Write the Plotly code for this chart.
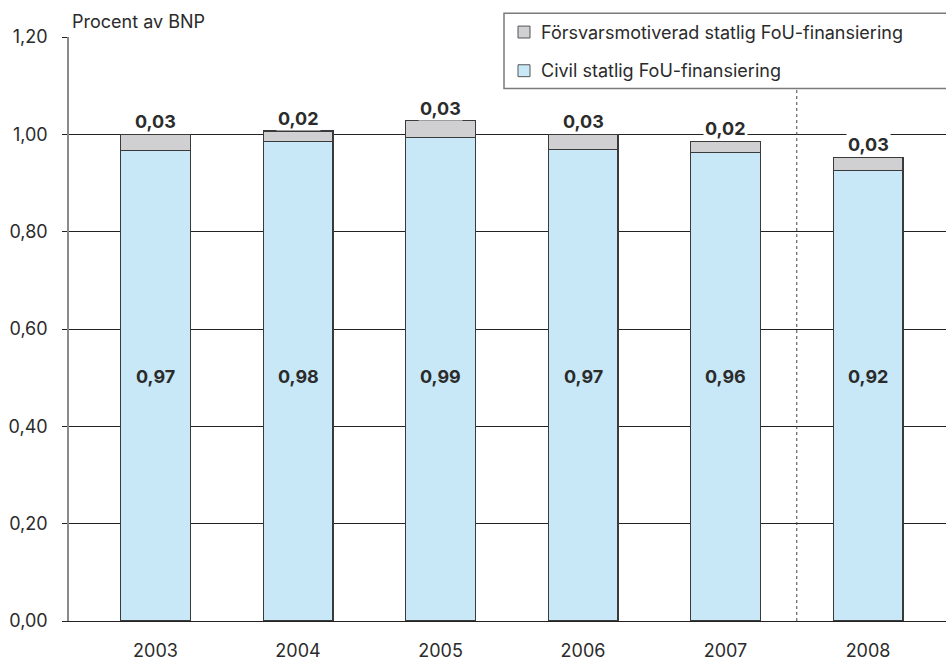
import plotly.graph_objects as go

# ---- data ----
years = ["2003", "2004", "2005", "2006", "2007", "2008"]
civil = [0.967, 0.985, 0.993, 0.969, 0.962, 0.925]
defense = [0.033, 0.022, 0.035, 0.031, 0.024, 0.028]
civil_labels = ["0,97", "0,98", "0,99", "0,97", "0,96", "0,92"]
defense_labels = ["0,03", "0,02", "0,03", "0,03", "0,02", "0,03"]
series_names = ["Civil statlig FoU-finansiering", "Försvarsmotiverad statlig FoU-finansiering"]
y_title = "Procent av BNP"

# ---- layout constants ----
W, H = 946, 661
L, R, T, B = 69, 0, 37, 35
PW, PH = W - L - R, H - T - B
FONT = "Inter, Liberation Sans, Arial, sans-serif"
TXT = "#2b2b2b"
C_CIVIL = "#c8e8f8"
C_DEF = "#d0d0d2"
EDGE = "#3a3a3a"


def px(xp):
    return (xp - L) / PW


def py(yp):
    return (H - B - yp) / PH


xs = list(range(len(years)))
totals = [c + d for c, d in zip(civil, defense)]

fig = go.Figure()
fig.add_trace(go.Bar(x=xs, y=civil, name=series_names[0], width=0.49,
                     marker=dict(color=C_CIVIL, line=dict(color=EDGE, width=1.2)),
                     showlegend=False, hoverinfo="skip"))
fig.add_trace(go.Bar(x=xs, y=defense, name=series_names[1], width=0.49,
                     marker=dict(color=C_DEF, line=dict(color=EDGE, width=1.2)),
                     showlegend=False, hoverinfo="skip"))

annotations = []
for i in xs:
    annotations.append(dict(x=i, y=0.503, xref="x", yref="y", text="<b>%s</b>" % civil_labels[i],
                            showarrow=False, font=dict(family=FONT, size=18, color=TXT)))
    annotations.append(dict(x=i, y=totals[i], xref="x", yref="y", text="<b>%s</b>" % defense_labels[i],
                            showarrow=False, yanchor="bottom", yshift=0, bgcolor="white", borderpad=1,
                            font=dict(family=FONT, size=18, color=TXT)))

annotations.append(dict(x=px(70), y=py(21), xref="paper", yref="paper", text=y_title,
                        showarrow=False, xanchor="left", yanchor="middle",
                        font=dict(family=FONT, size=18, color=TXT)))

shapes = [
    # divider between outcome and forecast
    dict(type="line", xref="x", yref="y", x0=4.5, x1=4.5, y0=0, y1=1.2,
         line=dict(color="#444", width=1, dash="dot"), layer="above"),
    # legend box
    dict(type="rect", xref="paper", yref="paper", x0=px(504), x1=px(960), y0=py(89), y1=py(13),
         fillcolor="white", line=dict(color="#7a7a7a", width=1.5), layer="above"),
]
legend_rows = [(series_names[1], C_DEF, 32), (series_names[0], C_CIVIL, 71)]
for name, col, yc in legend_rows:
    shapes.append(dict(type="rect", xref="paper", yref="paper", x0=px(518), x1=px(530),
                       y0=py(yc + 6), y1=py(yc - 6), fillcolor=col,
                       line=dict(color="#555", width=1), layer="above"))
    annotations.append(dict(x=px(539), y=py(yc), xref="paper", yref="paper", text=name,
                            showarrow=False, xanchor="left", yanchor="middle",
                            font=dict(family=FONT, size=18, color=TXT)))

fig.update_layout(
    width=W, height=H,
    margin=dict(l=L, r=R, t=T, b=B, pad=0),
    barmode="stack",
    paper_bgcolor="white", plot_bgcolor="white",
    separators=", ",
    font=dict(family=FONT, size=18, color=TXT),
    annotations=annotations,
    shapes=shapes,
    xaxis=dict(range=[-0.607, 5.547], tickvals=xs, ticktext=years, showgrid=False,
               zeroline=False, showline=True, linecolor="#222", linewidth=1.3,
               ticks="", ticklabelstandoff=13, tickfont=dict(size=18, color=TXT), fixedrange=True),
    yaxis=dict(range=[0, 1.2], tickvals=[0, 0.2, 0.4, 0.6, 0.8, 1.0, 1.2], tickformat=".2f",
               showgrid=True, gridcolor="#222", gridwidth=1.2, zeroline=False,
               showline=True, linecolor="#8a8a8a", linewidth=1.5,
               ticks="outside", ticklen=5, tickcolor="#222", tickwidth=1.2,
               ticklabelstandoff=11, tickfont=dict(size=18, color=TXT), fixedrange=True),
    showlegend=False,
)

fig.write_html("out.html", config={"displayModeBar": False},
               post_script="document.body.style.margin='0';")
